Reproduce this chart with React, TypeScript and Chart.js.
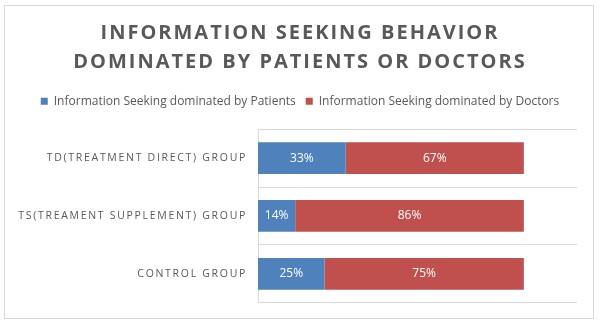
import React, { useEffect, useRef } from "react";
import { Chart, registerables } from "chart.js";

Chart.register(...registerables);

const categories = [
  "TD(TREATMENT DIRECT) GROUP",
  "TS(TREAMENT SUPPLEMENT) GROUP",
  "CONTROL GROUP",
];
const patientsShare = [33, 14, 25];
const doctorsShare = [67, 86, 75];
const seriesNames = [
  "Information Seeking dominated by Patients",
  "Information Seeking dominated by Doctors",
];
const titleLines = ["INFORMATION SEEKING BEHAVIOR", "DOMINATED BY PATIENTS OR DOCTORS"];
const xMax = 120;

const FONT = "'Open Sans', sans-serif";
const TEXT = "#595959";
const BLUE = "#4f81bd";
const RED = "#c0504d";

const spacingPlugin = {
  id: "letterSpacingWrap",
  beforeLayout(chart: any) {
    const wrap = (box: any, method: string, sp: string) => {
      if (!box || box["__wrapped_" + method]) return;
      const orig = box[method];
      box[method] = function (...args: any[]) {
        const ctx = chart.ctx as any;
        ctx.save();
        ctx.letterSpacing = sp;
        orig.apply(this, args);
        ctx.letterSpacing = "0px";
        ctx.restore();
      };
      box["__wrapped_" + method] = true;
    };
    wrap(chart.titleBlock, "draw", "2px");
    wrap(chart.scales.y, "drawLabels", "1.7px");
  },
};

const framePlugin = {
  id: "frame",
  beforeDraw(chart: any) {
    const ctx = chart.ctx;
    ctx.save();
    ctx.fillStyle = "#ffffff";
    ctx.fillRect(0, 0, chart.width, chart.height);
    ctx.strokeStyle = "#d9d9d9";
    ctx.lineWidth = 1;
    ctx.strokeRect(4.5, 5.5, 589, 313);
    ctx.restore();
  },
};

const valueLabelPlugin = {
  id: "valueLabels",
  afterDatasetsDraw(chart: any) {
    const ctx = chart.ctx;
    ctx.save();
    ctx.fillStyle = "#ffffff";
    ctx.font = `12px ${FONT}`;
    ctx.textAlign = "center";
    ctx.textBaseline = "middle";
    chart.data.datasets.forEach((ds: any, di: number) => {
      const meta = chart.getDatasetMeta(di);
      meta.data.forEach((el: any, i: number) => {
        const v = ds.data[i];
        const cx = (el.x + el.base) / 2;
        ctx.fillText(`${v}%`, cx, el.y);
      });
    });
    ctx.restore();
  },
};

export default function App() {
  const ref = useRef<HTMLCanvasElement>(null);
  useEffect(() => {
    document.body.style.margin = "0";
    const chart = new Chart(ref.current!, {
      type: "bar",
      data: {
        labels: categories,
        datasets: [
          {
            label: seriesNames[0],
            data: patientsShare,
            backgroundColor: BLUE,
            barPercentage: 0.55,
            categoryPercentage: 1,
          },
          {
            label: seriesNames[1],
            data: doctorsShare,
            backgroundColor: RED,
            barPercentage: 0.55,
            categoryPercentage: 1,
          },
        ],
      },
      options: {
        indexAxis: "y",
        responsive: false,
        animation: false,
        layout: { padding: { left: 0, right: 0, top: 1, bottom: 17 } },
        plugins: {
          tooltip: { enabled: false },
          title: {
            display: true,
            text: titleLines,
            color: TEXT,
            font: { family: FONT, size: 20, weight: "bold", lineHeight: 1.43 },
            padding: { top: 18, bottom: 9 },
          },
          legend: {
            position: "top",
            labels: {
              boxWidth: 7,
              boxHeight: 7,
              color: TEXT,
              font: { family: FONT, size: 12 },
              padding: 10,
            },
          },
        },
        scales: {
          x: {
            stacked: true,
            position: "top",
            min: 0,
            max: xMax,
            grid: { display: false },
            border: { display: false },
            ticks: { display: false },
            afterFit: (s: any) => {
              s.height = 12;
            },
          },
          y: {
            stacked: true,
            grid: { color: "#d9d9d9", drawTicks: false },
            border: { color: "#d9d9d9" },
            ticks: { color: TEXT, font: { family: FONT, size: 10.5 }, padding: 11 },
            afterFit: (s: any) => {
              s.width = 258;
            },
          },
          yRight: {
            type: "category",
            position: "right",
            labels: categories,
            grid: { display: false, drawTicks: false },
            border: { display: false },
            ticks: { display: false },
            afterFit: (s: any) => {
              s.width = 23;
            },
          },
        },
      },
      plugins: [framePlugin, spacingPlugin, valueLabelPlugin],
    });
    return () => chart.destroy();
  }, []);
  return <canvas ref={ref} width={600} height={320} style={{ display: "block" }} />;
}
